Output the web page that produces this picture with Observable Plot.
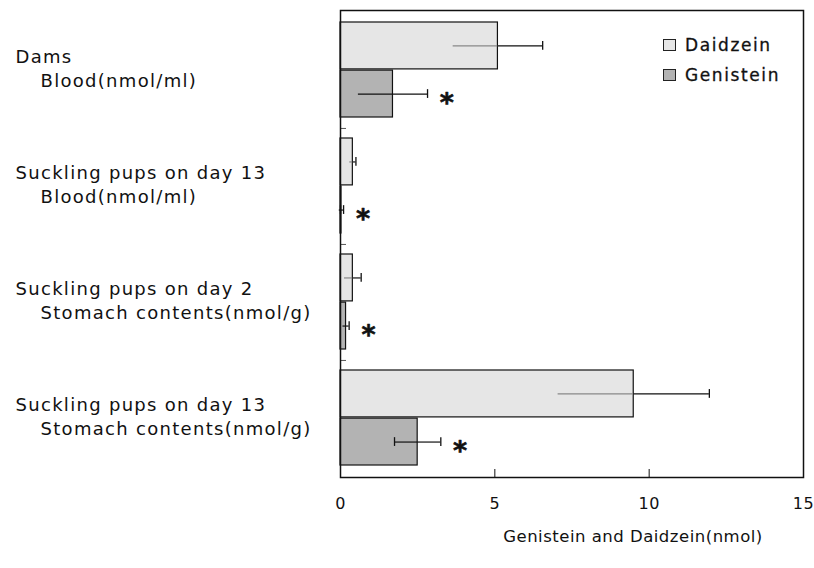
<!DOCTYPE html>
<html><head><meta charset="utf-8">
<script src="https://cdn.jsdelivr.net/npm/d3@7"></script>
<script src="https://cdn.jsdelivr.net/npm/@observablehq/plot@0.6"></script>
<style>
body{margin:0;background:#fff;}
#wrap{position:relative;width:814px;height:568px;font-family:"DejaVu Sans",sans-serif;}
.leg{position:absolute;font-size:17px;line-height:17px;letter-spacing:1.6px;color:#111;white-space:nowrap;-webkit-text-stroke:0.3px #111;}
.sw{position:absolute;width:11px;height:10px;border:1.3px solid #222;}
</style></head><body><div id="wrap"></div>
<script>
// ---- data ----
const groupTitles = ["Dams", "Suckling pups on day 13", "Suckling pups on day 2", "Suckling pups on day 13"];
const groupUnits = ["Blood(nmol/ml)", "Blood(nmol/ml)", "Stomach contents(nmol/g)", "Stomach contents(nmol/g)"];
const daidzeinMean = [5.1, 0.4, 0.4, 9.5];
const daidzeinSD = [1.45, 0.1, 0.27, 2.45];
const genisteinMean = [1.7, 0.03, 0.18, 2.5];
const genisteinSD = [1.12, 0.07, 0.1, 0.75];
const significant = [true, true, true, true];
const seriesNames = ["Daidzein", "Genistein"];
const xTicks = [0, 5, 10, 15];
const xTitle = "Genistein and Daidzein(nmol)";

// ---- layout ----
const W = 814, H = 568, mL = 340, mR = 11, mT = 10, mB = 91;
const padIn = 0.177, padOut = 0.086;
const innerH = H - mT - mB, innerW = W - mL - mR;
const step = innerH / (groupTitles.length - padIn + 2 * padOut);
const bw = step * (1 - padIn);
const half = bw / 2;
const capH = 10;

const keys = groupTitles.map((t, i) => t + " | " + groupUnits[i]);
const rows = keys.map((k, i) => ({
  key: k, title: groupTitles[i], unit: groupUnits[i],
  dm: daidzeinMean[i], ds: daidzeinSD[i], gm: genisteinMean[i], gs: genisteinSD[i],
  sig: significant[i], lowerCap: i === 3 || i === 1
}));

const ink = "#111";
const chart = Plot.plot({
  width: W, height: H,
  marginLeft: mL, marginRight: mR, marginTop: mT, marginBottom: mB,
  style: {fontFamily: "DejaVu Sans, sans-serif", background: "#fff", color: ink},
  x: {domain: [0, 15], ticks: xTicks},
  y: {type: "band", domain: keys, paddingInner: padIn, paddingOuter: padOut, axis: null},
  marks: [
    Plot.barX(rows, {x: "dm", y: "key", fill: "#e6e6e6", stroke: ink, strokeWidth: 1.2, insetBottom: half}),
    Plot.barX(rows, {x: "gm", y: "key", fill: "#b3b3b3", stroke: ink, strokeWidth: 1.2, insetTop: half}),
    // error bars: lower half (inside bar)
    Plot.ruleY(rows, {y: "key", x1: d => d.dm - d.ds, x2: "dm", dy: -half / 2, stroke: "#888", strokeWidth: 1.2}),
    Plot.ruleY(rows, {y: "key", x1: d => d.gm - d.gs, x2: "gm", dy: half / 2, stroke: ink, strokeWidth: 1.2}),
    // upper half
    Plot.ruleY(rows, {y: "key", x1: "dm", x2: d => d.dm + d.ds, dy: -half / 2, stroke: ink, strokeWidth: 1.2}),
    Plot.ruleY(rows, {y: "key", x1: "gm", x2: d => d.gm + d.gs, dy: half / 2, stroke: ink, strokeWidth: 1.2}),
    // caps
    Plot.tickX(rows, {x: d => d.dm + d.ds, y: "key", insetTop: half / 2 - capH / 2, insetBottom: bw - half / 2 - capH / 2, stroke: ink, strokeWidth: 1.3}),
    Plot.tickX(rows, {x: d => d.gm + d.gs, y: "key", insetTop: half + half / 2 - capH / 2, insetBottom: half / 2 - capH / 2, stroke: ink, strokeWidth: 1.3}),
    Plot.tickX(rows.filter(d => d.lowerCap), {x: d => Math.max(0, d.gm - d.gs), y: "key", insetTop: half + half / 2 - capH / 2, insetBottom: half / 2 - capH / 2, stroke: ink, strokeWidth: 1.3}),
    // significance
    Plot.text(rows.filter(d => d.sig), {x: d => d.gm + d.gs, y: "key", text: () => "*", dx: 20, dy: half / 2 + 9, fontSize: 27, fontWeight: "bold", fill: ink, stroke: ink, strokeWidth: 0.6}),
    // category labels
    Plot.text(rows, {y: "key", text: "title", frameAnchor: "left", textAnchor: "start", dx: 15 - mL, dy: -13, fontSize: 18, fill: ink}),
    Plot.text(rows, {y: "key", text: "unit", frameAnchor: "left", textAnchor: "start", dx: 40 - mL, dy: 11.5, fontSize: 18, fill: ink}),
    // y boundary ticks
    Plot.ruleY(keys.slice(0, -1), {y: d => d, dy: step / 2, insetRight: innerW - 6, stroke: "#555"}),
    // x inner ticks
    Plot.ruleX(xTicks.slice(1, -1), {insetTop: innerH - 8, stroke: ink}),
    Plot.axisX({ticks: xTicks, tickSize: 0, tickPadding: 20, fontSize: 16, label: null}),
    Plot.text([xTitle], {frameAnchor: "bottom", lineAnchor: "middle", dx: 61, dy: 59.5, fontSize: 16.5, fill: ink}),
    Plot.frame({stroke: ink, strokeWidth: 1.5})
  ]
});
const s = d3.select(chart);
s.selectAll("text").style("letter-spacing", "1.3px").style("-webkit-text-stroke", "0.3px " + ink);
s.selectAll("g[aria-label='x-axis tick label'] text").style("letter-spacing", "0.5px");
// axis title: tighter spacing
s.selectAll("text").filter(function () { return this.textContent === xTitle; }).style("letter-spacing", "0.5px");

const wrap = document.getElementById("wrap");
wrap.appendChild(chart);
const legColors = ["#e6e6e6", "#b3b3b3"];
seriesNames.forEach((name, i) => {
  const sw = document.createElement("div");
  sw.className = "sw";
  sw.style.left = "663px"; sw.style.top = (38.5 + 30 * i) + "px";
  sw.style.background = legColors[i];
  wrap.appendChild(sw);
  const t = document.createElement("div");
  t.className = "leg";
  t.style.left = "685px"; t.style.top = (37.3 + 30 * i) + "px";
  t.textContent = name;
  wrap.appendChild(t);
});
</script></body></html>
